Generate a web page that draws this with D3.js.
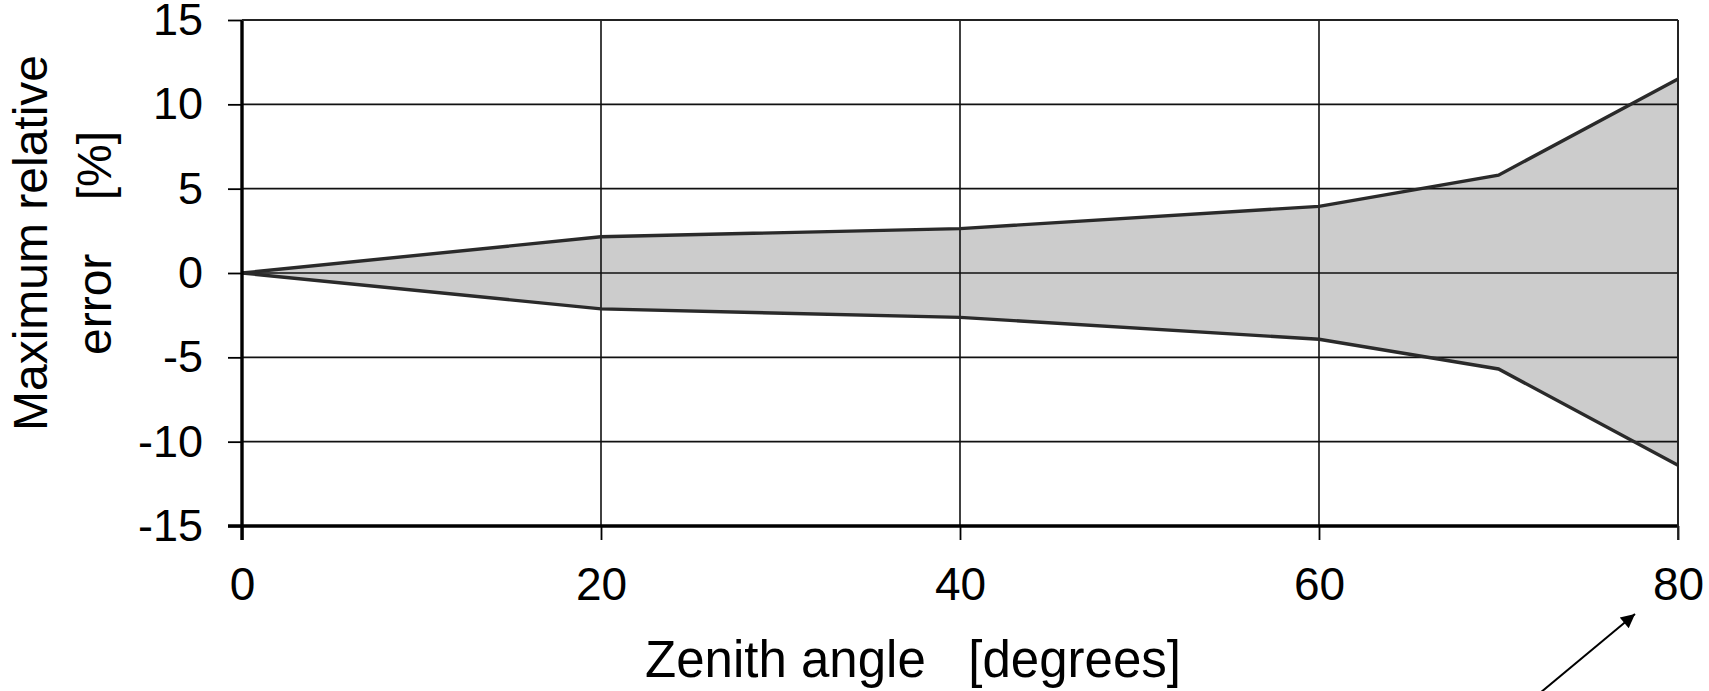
<!DOCTYPE html>
<html>
<head>
<meta charset="utf-8">
<script src="https://cdn.jsdelivr.net/npm/d3@7"></script>
<style>
  html, body { margin: 0; padding: 0; background: #fff; }
  svg { display: block; font-family: "Liberation Sans", Arial, sans-serif; }
  text { white-space: pre; }
</style>
</head>
<body>
<svg id="chart" width="1709" height="691"></svg>
<script>
// ---- data ----
const zenith = [0, 20, 40, 60, 70, 80];
const upperError = [0, 2.15, 2.63, 3.95, 5.8, 11.5];
const lowerError = [0, -2.13, -2.63, -3.93, -5.69, -11.4];
const xTickValues = [0, 20, 40, 60, 80];
const yTickValues = [-15, -10, -5, 0, 5, 10, 15];
const xTitle = "Zenith angle   [degrees]";
const yTitleLines = ["Maximum relative", "error    [%]"];

// ---- layout ----
const svg = d3.select("#chart");
const L = 242, R = 1678, T = 20, B = 526;
const x = d3.scaleLinear().domain([0, 80]).range([L, R]);
const y = d3.scaleLinear().domain([-15, 15]).range([B, T]);

svg.append("rect").attr("width", 1709).attr("height", 691).attr("fill", "#fff");

const pts = zenith.map((z, i) => ({ z, hi: upperError[i], lo: lowerError[i] }));

// filled band
svg.append("path")
  .datum(pts)
  .attr("fill", "#cccccc")
  .attr("d", d3.area().x(d => x(d.z)).y0(d => y(d.lo)).y1(d => y(d.hi)));

// gridlines
const grid = svg.append("g").attr("stroke", "#111").attr("stroke-width", 1.6);
grid.selectAll("line.h").data(yTickValues.filter(v => v !== -15))
  .join("line").attr("class", "h")
  .attr("x1", L).attr("x2", R).attr("y1", d => y(d)).attr("y2", d => y(d));
grid.selectAll("line.v").data(xTickValues.filter(v => v !== 0))
  .join("line").attr("class", "v")
  .attr("x1", d => x(d)).attr("x2", d => x(d)).attr("y1", T).attr("y2", B);

// envelope lines
const line = (acc) => d3.line().x(d => x(d.z)).y(d => y(acc(d)));
svg.append("path").datum(pts).attr("fill", "none").attr("stroke", "#2a2a2a")
  .attr("stroke-width", 3.4).attr("d", line(d => d.hi));
svg.append("path").datum(pts).attr("fill", "none").attr("stroke", "#2a2a2a")
  .attr("stroke-width", 3.4).attr("d", line(d => d.lo));

// axes
const fmt = d => String(d);
const yAxis = svg.append("g").attr("transform", `translate(${L},0)`)
  .call(d3.axisLeft(y).tickValues(yTickValues).tickSize(14).tickPadding(25)
    .tickFormat(fmt));
yAxis.select(".domain").remove();
yAxis.selectAll(".tick line").attr("stroke", "#000").attr("stroke-width", 1.8);
yAxis.selectAll(".tick text").attr("font-size", 45).attr("fill", "#000")
  .attr("font-family", "Liberation Sans, Arial, sans-serif");

const xAxis = svg.append("g").attr("transform", `translate(0,${B})`)
  .call(d3.axisBottom(x).tickValues(xTickValues).tickSize(14).tickPadding(27)
    .tickFormat(fmt));
xAxis.select(".domain").remove();
xAxis.selectAll(".tick line").attr("stroke", "#000").attr("stroke-width", 1.8);
xAxis.selectAll(".tick text").attr("font-size", 46).attr("fill", "#000")
  .attr("font-family", "Liberation Sans, Arial, sans-serif");

// frame: thick left & bottom, thin top & right
svg.append("line").attr("x1", L).attr("x2", L).attr("y1", T).attr("y2", B + 14)
  .attr("stroke", "#000").attr("stroke-width", 3.4);
svg.append("line").attr("x1", L - 14).attr("x2", R).attr("y1", B).attr("y2", B)
  .attr("stroke", "#000").attr("stroke-width", 3.4);
svg.append("line").attr("x1", L).attr("x2", R).attr("y1", T).attr("y2", T)
  .attr("stroke", "#222").attr("stroke-width", 1.8);
svg.append("line").attr("x1", R).attr("x2", R).attr("y1", T).attr("y2", B + 14)
  .attr("stroke", "#222").attr("stroke-width", 1.8);

// titles
svg.append("text").attr("x", 913).attr("y", 677).attr("text-anchor", "middle")
  .attr("font-size", 51).attr("fill", "#000").text(xTitle);

const yt = svg.append("text").attr("transform", "translate(0,243) rotate(-90)")
  .attr("text-anchor", "middle").attr("font-size", 48).attr("fill", "#000");
yt.append("tspan").attr("x", 0).attr("y", 47).text(yTitleLines[0]);
yt.append("tspan").attr("x", 0).attr("y", 111).text(yTitleLines[1]);

// arrow annotation
const defs = svg.append("defs");
defs.append("marker").attr("id", "ah").attr("viewBox", "0 0 10 10")
  .attr("refX", 10).attr("refY", 5).attr("markerWidth", 18).attr("markerHeight", 14)
  .attr("markerUnits", "userSpaceOnUse").attr("orient", "auto")
  .append("path").attr("d", "M0,0 L10,5 L0,10 Z").attr("fill", "#000");
svg.append("line").attr("x1", 1540).attr("y1", 693).attr("x2", 1635).attr("y2", 614)
  .attr("stroke", "#000").attr("stroke-width", 2).attr("marker-end", "url(#ah)");
</script>
</body>
</html>
